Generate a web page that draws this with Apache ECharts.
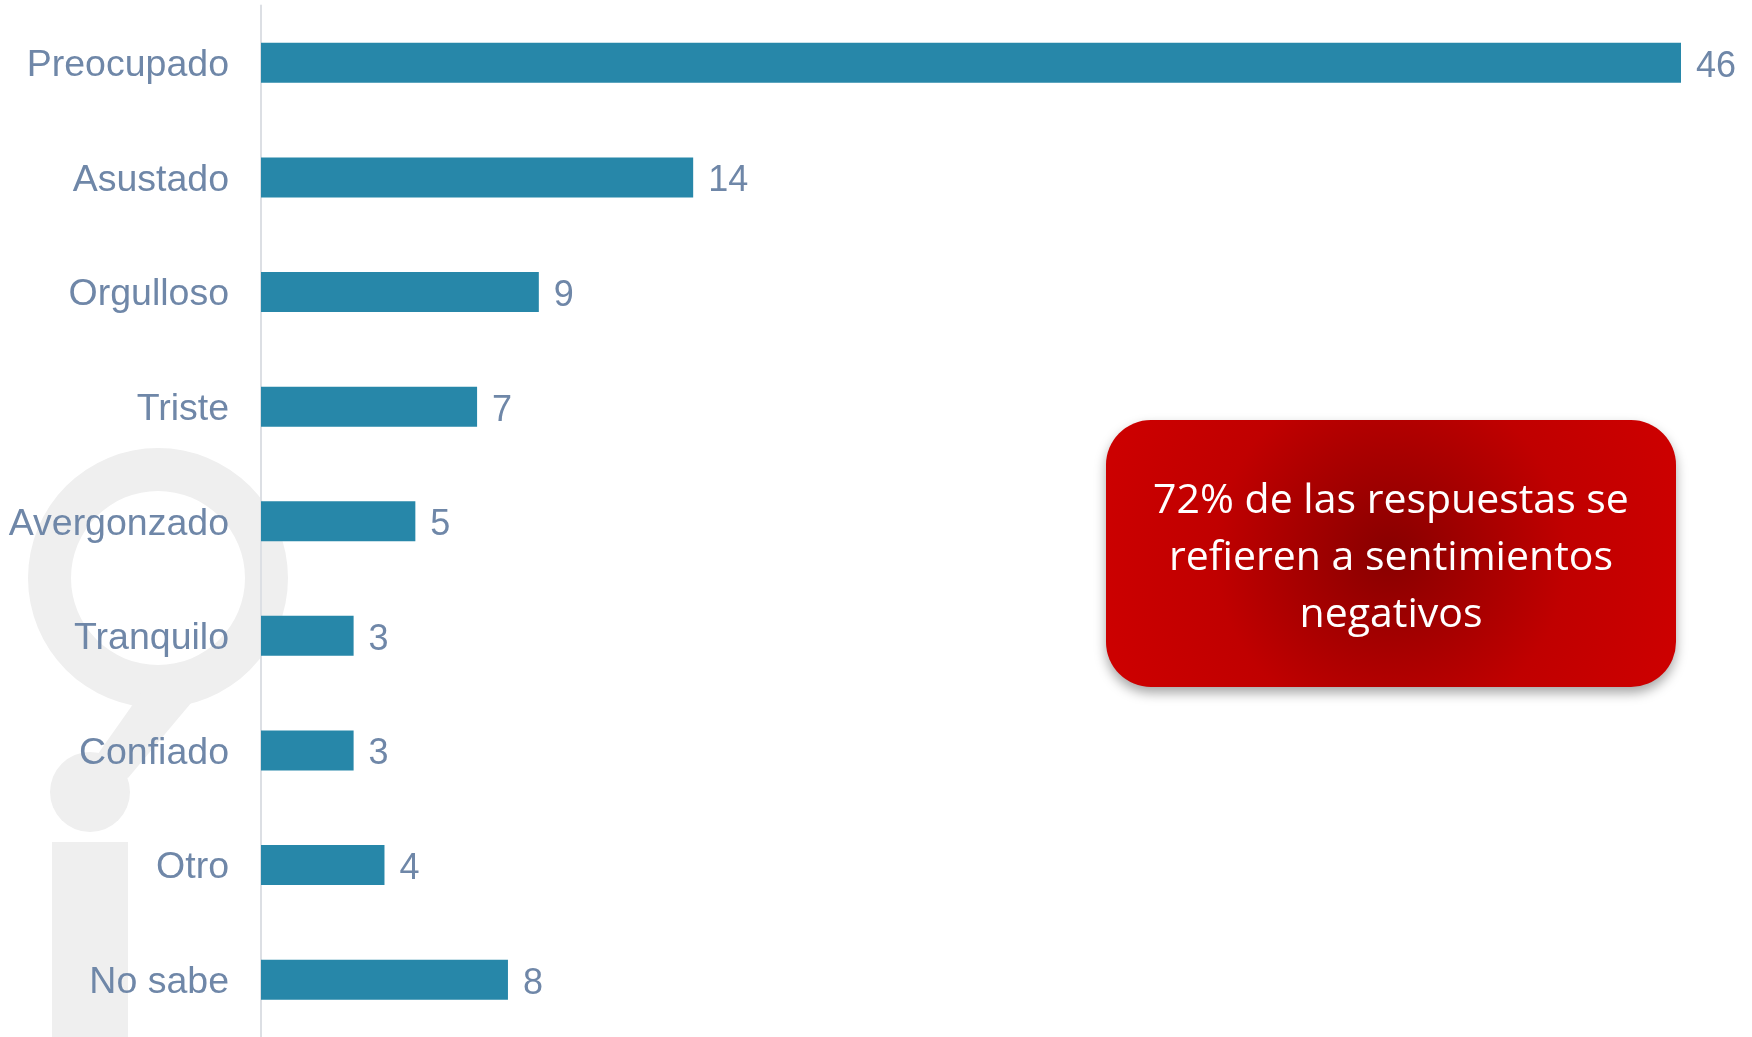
<!DOCTYPE html>
<html>
<head>
<meta charset="utf-8">
<script src="https://cdn.jsdelivr.net/npm/echarts@6/dist/echarts.min.js"></script>
<style>
  html, body { margin: 0; padding: 0; background: #fff; }
  #chart { width: 1752px; height: 1037px; }
</style>
</head>
<body>
<div id="chart"></div>
<script>
// data
const categories = ["Preocupado", "Asustado", "Orgulloso", "Triste", "Avergonzado", "Tranquilo", "Confiado", "Otro", "No sabe"];
const values = [46, 14, 9, 7, 5, 3, 3, 4, 8];
const noteLines = ["72% de las respuestas se", "refieren a sentimientos", "negativos"];

const labelColor = "#6f87a8";
const barColor = "#2787a9";
const markColor = "#efefef";

let mychart = echarts.init(document.getElementById("chart"));

let option = {
  animation: false,
  grid: {
    left: 261,
    top: 5.5,
    width: 1420,
    height: 1036.5,
  },
  xAxis: {
    type: "value",
    min: 0,
    max: 46,
    show: false,
  },
  yAxis: {
    type: "category",
    data: categories,
    inverse: true,
    axisTick: { show: false },
    axisLine: {
      show: true,
      lineStyle: { color: "#dcdfe4", width: 2 },
    },
    axisLabel: {
      margin: 32,
      formatter: (v) => "{a|" + v + "}",
      rich: {
        a: {
          color: labelColor,
          fontSize: 37.5,
          fontFamily: "Liberation Sans, Arial, sans-serif",
          padding: [6, 0, 0, 0],
        },
      },
    },
    z: 3,
  },
  series: [
    {
      type: "bar",
      data: values,
      barWidth: 40,
      itemStyle: { color: barColor },
      label: {
        show: true,
        position: "right",
        distance: 15,
        offset: [0, 4],
        color: labelColor,
        fontSize: 36,
        fontFamily: "Liberation Sans, Arial, sans-serif",
      },
      z: 3,
    },
  ],
  graphic: [
    // faint watermark behind the labels
    {
      type: "group",
      z: -10,
      silent: true,
      children: [
        {
          type: "ring",
          shape: { cx: 158, cy: 578, r: 130, r0: 87 },
          style: { fill: markColor },
        },
        {
          type: "polygon",
          shape: { points: [[143, 690], [202, 690], [128, 778], [88, 768]] },
          style: { fill: markColor },
        },
        {
          type: "circle",
          shape: { cx: 90, cy: 792, r: 40 },
          style: { fill: markColor },
        },
        {
          type: "rect",
          shape: { x: 52, y: 842, width: 76, height: 200 },
          style: { fill: markColor },
        },
      ],
    },
    // red note box
    {
      type: "group",
      left: 1106,
      top: 420,
      z: 10,
      children: [
        {
          type: "rect",
          shape: { x: 0, y: 0, width: 570, height: 267, r: 45 },
          style: {
            fill: {
              type: "radial",
              x: 0.5,
              y: 0.5,
              r: 1.1,
              colorStops: [
                { offset: 0, color: "#880000" },
                { offset: 0.6, color: "#c00000" },
                { offset: 1, color: "#cc0000" },
              ],
            },
            shadowBlur: 12,
            shadowOffsetY: 6,
            shadowColor: "rgba(0,0,0,0.35)",
          },
        },
        {
          type: "text",
          x: 285,
          y: 138,
          style: {
            text: noteLines.join("\n"),
            fill: "#ffffff",
            fontSize: 41,
            lineHeight: 57,
            fontFamily: "Open Sans, Noto Sans, sans-serif",
            align: "center",
            verticalAlign: "middle",
          },
        },
      ],
    },
  ],
};

mychart.setOption(option);
</script>
</body>
</html>
